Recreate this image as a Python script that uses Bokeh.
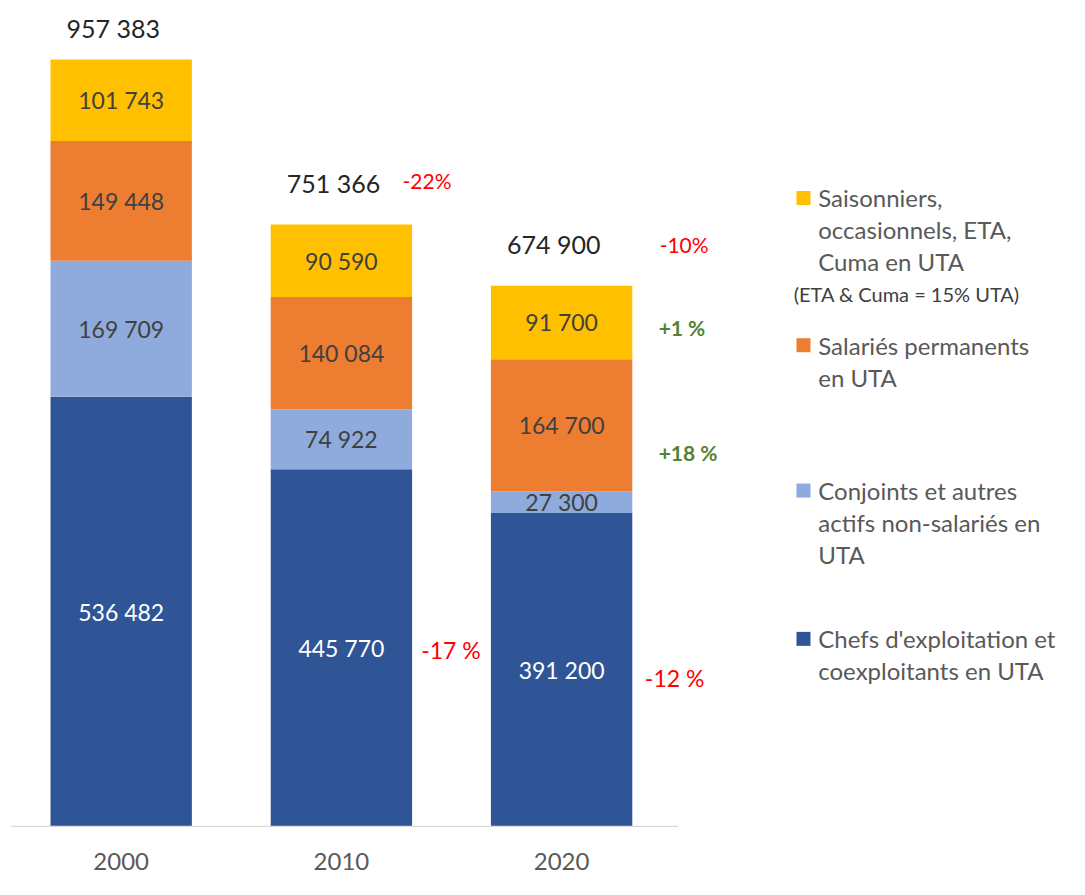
from bokeh.plotting import figure
from bokeh.models import Range1d, ColumnDataSource
from bokeh.core.properties import value
from bokeh.embed import file_html
from bokeh.resources import INLINE

# ---------------- data ----------------
years = ["2000", "2010", "2020"]
chefs = [536482, 445770, 391200]
conjoints = [169709, 74922, 27300]
salaries = [149448, 140084, 164700]
saisonniers = [101743, 90590, 91700]
totals = [957383, 751366, 674900]

series_names = ["chefs", "conjoints", "salaries", "saisonniers"]
series_colors = ["#2F5597", "#8FAADC", "#ED7D31", "#FFC000"]
label_colors = ["#FFFFFF", "#404040", "#404040", "#404040"]

legend_lines = [
    ["Saisonniers,", "occasionnels, ETA,", "Cuma en UTA"],
    ["Salariés permanents", "en UTA"],
    ["Conjoints et autres", "actifs non-salariés en", "UTA"],
    ["Chefs d'exploitation et", "coexploitants en UTA"],
]
legend_colors = ["#FFC000", "#ED7D31", "#8FAADC", "#2F5597"]
legend_note = "(ETA & Cuma = 15% UTA)"

pct_texts = ["-22%", "-10%", "+1 %", "+18 %", "-17 %", "-12 %"]
pct_colors = ["#FF0000", "#FF0000", "#548235", "#548235", "#FF0000", "#FF0000"]

# ---------------- layout helpers (reference pixels -> data) ----------------
FONT = value("Lato")
REF_W, REF_H = 1085, 895
W, H = 1069, 879
SX, SY = W / REF_W, H / REF_H
BAR0_PX = 122.5      # reference x of first bar centre
STEP_PX = 223.5      # reference px between bar centres
BASE_PX = 841.0      # reference y of baseline
UNIT = 957383 / 781  # data units per reference pixel


def px2x(px):
    return (px - BAR0_PX) / STEP_PX


def py2y(py):
    return (BASE_PX - py) * UNIT


p = figure(width=W, height=H,
           x_range=Range1d(px2x(0), px2x(REF_W)),
           y_range=Range1d(py2y(REF_H), py2y(0)),
           output_backend="svg", toolbar_location=None,
           x_axis_location=None, y_axis_location=None,
           min_border=0, background_fill_color="white",
           border_fill_color="white")
p.grid.visible = False
p.outline_line_color = None

xs = list(range(len(years)))
data = dict(x=xs, chefs=chefs, conjoints=conjoints,
            salaries=salaries, saisonniers=saisonniers)
src = ColumnDataSource(data)
p.vbar_stack(series_names, x="x", width=143.5 / STEP_PX, color=series_colors,
             line_color=None, source=src)

# baseline
p.segment(x0=[xs[0] - 0.5], x1=[xs[-1] + 0.53], y0=[0], y1=[0],
          line_color="#D9D9D9", line_width=1.2)

# segment labels
lx, ly, lt, lc = [], [], [], []
for i in xs:
    bottom = 0
    for name, col in zip(series_names, label_colors):
        v = data[name][i]
        lx.append(i)
        ly.append(bottom + v / 2)
        lt.append(f"{v:,}".replace(",", " "))
        lc.append(col)
        bottom += v
p.text(x=lx, y=ly, text=lt, text_color=lc, text_font=FONT,
       text_font_size="23px", text_align="center", text_baseline="middle")

# totals
p.text(x=xs, y=totals, text=[f"{t:,}".replace(",", " ") for t in totals],
       text_color="#262626", text_font=FONT, text_font_size="25px",
       text_align="center", text_baseline="middle",
       x_offset=-8 * SX, y_offset=[-32 * SY, -42 * SY, -42 * SY])

# year labels
p.text(x=xs, y=[0] * len(xs), text=years, text_color="#595959",
       text_font=FONT, text_font_size="24px", text_align="center",
       text_baseline="middle", y_offset=36 * SY)

# percentage annotations
pct_px = [(408, 183), (669, 248), (668, 333), (668, 460), (427, 661), (654, 690)]
pct_sizes = ["21px", "21px", "21px", "21px", "23px", "23px"]
pct_styles = ["normal", "normal", "bold", "bold", "normal", "normal"]
for t, c, (ppx, ppy), fs, st in zip(pct_texts, pct_colors, pct_px, pct_sizes, pct_styles):
    p.text(x=[px2x(ppx)], y=[py2y(ppy)], text=[t], text_color=c,
           text_font=FONT, text_font_size=fs, text_font_style=st,
           text_align="left", text_baseline="middle")

# legend (manual)
first_line_py = [201, 351, 499, 650]
LINE_STEP = 32.5
p.scatter(x=[px2x(815)] * 4, y=[py2y(v) for v in first_line_py],
          marker="square", size=14, color=legend_colors, line_color=None)
gx, gy, gt = [], [], []
for lines, y0 in zip(legend_lines, first_line_py):
    for k, line in enumerate(lines):
        gx.append(px2x(830))
        gy.append(py2y(y0 + k * LINE_STEP))
        gt.append(line)
p.text(x=gx, y=gy, text=gt, text_color="#595959", text_font=FONT,
       text_font_size="24px", text_align="left", text_baseline="middle")
p.text(x=[px2x(805)], y=[py2y(299)], text=[legend_note], text_color="#404040",
       text_font=FONT, text_font_size="20px", text_align="left",
       text_baseline="middle")

open("out.html", "w").write(file_html(p, INLINE))
